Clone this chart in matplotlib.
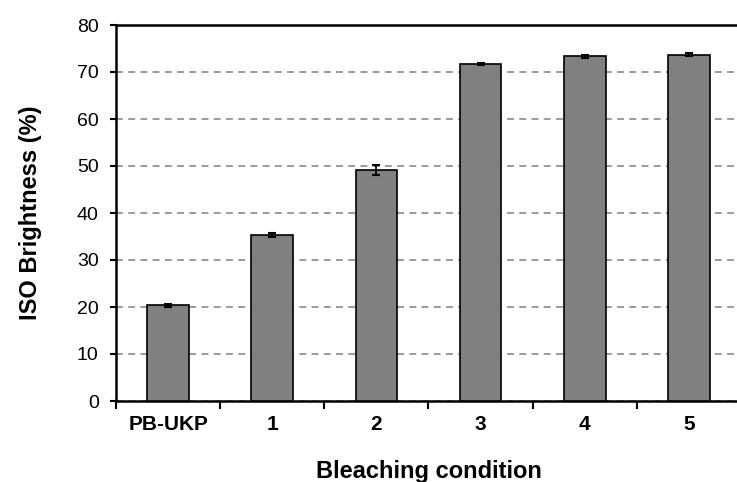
import matplotlib
matplotlib.use("Agg")
import matplotlib.pyplot as plt
import numpy as np

plt.rcParams["font.family"] = ["Liberation Sans", "DejaVu Sans"]

conditions = ["PB-UKP", "1", "2", "3", "4", "5"]
brightness = [20.4, 35.3, 49.1, 71.7, 73.3, 73.7]
brightness_err = [0.3, 0.4, 1.1, 0.3, 0.3, 0.3]

fig = plt.figure(figsize=(7.37, 4.82), dpi=100)
# plot box runs slightly past the right edge of the figure
ax = fig.add_axes([116 / 737, 81 / 482, 625 / 737, 376 / 482])

x = np.arange(len(conditions))
ax.bar(x, brightness, width=0.4, color="#808080", edgecolor="black", linewidth=1.2,
       yerr=brightness_err, capsize=3, error_kw={"elinewidth": 1.3, "capthick": 1.5, "ecolor": "black"},
       zorder=3)

ax.set_xlim(-0.5, len(conditions) - 0.5)
ax.set_ylim(0, 80)
ax.set_yticks(range(0, 81, 10))
ax.yaxis.grid(True, linestyle=(0, (4.5, 3.5)), color="#808080", linewidth=1.1, zorder=0)

# category labels centred, ticks between categories
ax.set_xticks(x)
ax.set_xticklabels(conditions, fontsize=15, fontweight="bold")
ax.tick_params(axis="x", which="major", length=0, pad=10)
ax.set_xticks(np.arange(-0.5, len(conditions)), minor=True)
ax.tick_params(axis="x", which="minor", length=6, width=1.5, direction="out")
ax.tick_params(axis="y", length=4.5, width=1.5, labelsize=14, pad=8, direction="out")

for side in ["left", "bottom", "top", "right"]:
    ax.spines[side].set_linewidth(1.8)

ax.set_xlabel("Bleaching condition", fontsize=17, fontweight="bold", labelpad=19)
ax.set_ylabel("ISO Brightness (%)", fontsize=17, fontweight="bold", labelpad=25)

fig.savefig("out.png", dpi=100)
